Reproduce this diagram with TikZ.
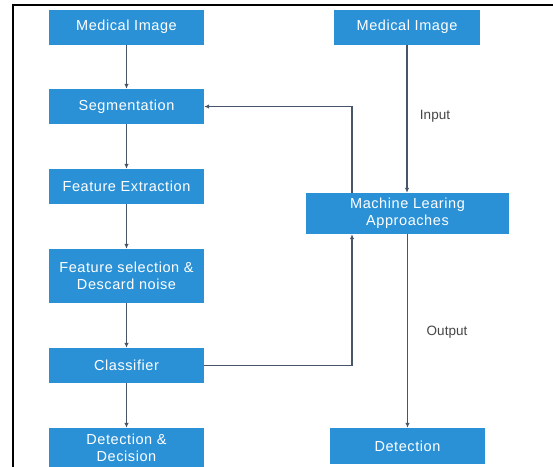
\documentclass[tikz,border=0pt]{standalone}
\usepackage{fontspec}
\setmainfont{Liberation Sans}
\usetikzlibrary{arrows.meta}
\definecolor{boxblue}{RGB}{43,145,215}
\definecolor{linec}{RGB}{70,86,104}
\definecolor{labc}{RGB}{70,70,70}
\tikzset{
  blk/.style={rectangle, fill=boxblue, text=white, inner sep=0pt, align=center,
    font=\fontsize{14.5}{17}\selectfont\addfontfeature{LetterSpace=4}},
  arr/.style={draw=linec, line width=1.1pt, -{Latex[length=5pt,width=4.5pt]}},
  lab/.style={text=labc, font=\fontsize{13.5}{16}\selectfont},
  frame/.style={draw=black, line width=2pt}
}
\begin{document}
\begin{tikzpicture}[x=1pt,y=-1pt]
\useasboundingbox (0,0) rectangle (553,466);
\fill[white] (0,0) rectangle (553,466);
% frame
\coordinate (fa) at (13,470);
\coordinate (fb) at (13,5);
\coordinate (fc) at (555,5);
\draw[frame] (fa) -- (fb) -- (fc);
% left column
\node[blk, minimum width=155pt, minimum height=35pt] (lm) at (126.5,27) {Medical Image};
\node[blk, minimum width=155pt, minimum height=35pt] (seg) at (126.5,106.5) {Segmentation};
\node[blk, minimum width=155pt, minimum height=35pt] (fe) at (126.5,186.5) {Feature Extraction};
\node[blk, minimum width=155pt, minimum height=54pt] (fs) at (126.5,276) {Feature selection \&\\Descard noise};
\node[blk, minimum width=155pt, minimum height=35pt] (cl) at (126.5,365.5) {Classifier};
\node[blk, minimum width=155pt, minimum height=40pt] (dd) at (126.5,448) {Detection \&\\Decision};
% right column
\node[blk, minimum width=146pt, minimum height=35pt] (rm) at (407,27) {Medical Image};
\node[blk, minimum width=203pt, minimum height=41pt] (ml) at (407.5,213.5) {Machine Learing\\Approaches};
\node[blk, minimum width=155pt, minimum height=36pt] (det) at (407.5,446) {Detection};
% labels
\node[lab] (inp) at (435,116) {Input};
\node[lab] (outp) at (447,332) {Output};
% connectors
\draw[arr] (lm) -- (seg);
\draw[arr] (seg) -- (fe);
\draw[arr] (fe) -- (fs);
\draw[arr] (fs) -- (cl);
\draw[arr] (cl) -- (dd);
\draw[arr] (rm) -- (rm |- ml.north);
\draw[arr] (ml) -- (ml.south |- det.north);
\coordinate (fb1) at (352,0);
\draw[arr] (ml.north -| fb1) |- (seg.east);
\draw[arr] (cl.east) -| (ml.south -| fb1);
\end{tikzpicture}
\end{document}
